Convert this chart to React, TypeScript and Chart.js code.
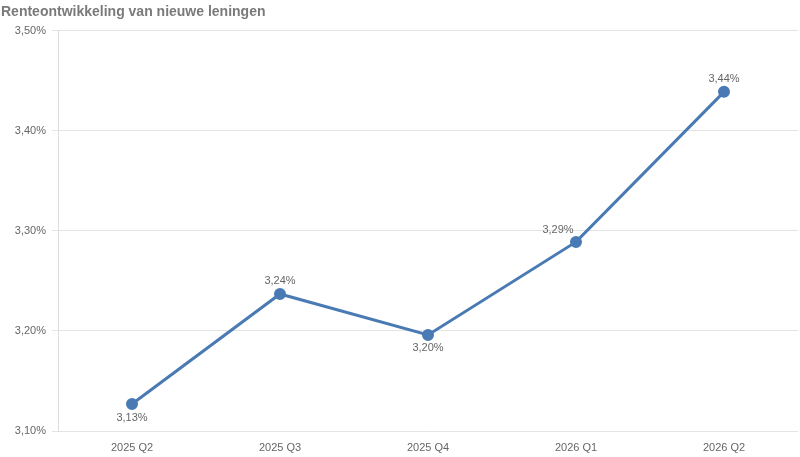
import React, { useEffect, useRef } from "react";
import { Chart, registerables } from "chart.js";

Chart.register(...registerables);

const categories = ["2025 Q2", "2025 Q3", "2025 Q4", "2026 Q1", "2026 Q2"];
const rates = [3.127, 3.237, 3.196, 3.289, 3.439];
const rateLabels = ["3,13%", "3,24%", "3,20%", "3,29%", "3,44%"];
const labelPlacement = ["below", "above", "below", "aboveLeft", "above"];
const yTicks = [3.1, 3.2, 3.3, 3.4, 3.5];

const FONT = "'Liberation Sans', Arial, sans-serif";

const pointLabels = {
  id: "pointLabels",
  afterDatasetsDraw(chart: any) {
    const ctx = chart.ctx;
    const meta = chart.getDatasetMeta(0);
    ctx.save();
    ctx.font = `11px ${FONT}`;
    ctx.fillStyle = "#666";
    ctx.textAlign = "center";
    meta.data.forEach((pt: any, i: number) => {
      const place = labelPlacement[i];
      let x = pt.x;
      let y = pt.y;
      if (place === "below") {
        ctx.textBaseline = "top";
        y += 8;
      } else if (place === "aboveLeft") {
        ctx.textBaseline = "bottom";
        x -= 18;
        y -= 6;
      } else {
        ctx.textBaseline = "bottom";
        y -= 7;
      }
      ctx.fillText(rateLabels[i], x, y);
    });
    ctx.restore();
  },
};

export default function App() {
  const ref = useRef<HTMLCanvasElement>(null);
  useEffect(() => {
    document.body.style.margin = "0";
    const chart = new Chart(ref.current as HTMLCanvasElement, {
      type: "line",
      data: {
        labels: categories,
        datasets: [
          {
            data: rates,
            borderColor: "#4a7ab4",
            backgroundColor: "#4a7ab4",
            borderWidth: 3,
            pointRadius: 4.5,
            pointHoverRadius: 4.5,
            tension: 0,
          },
        ],
      },
      options: {
        animation: false,
        responsive: false,
        layout: { autoPadding: false, padding: { left: 1, right: 2, top: 1, bottom: 0 } },
        plugins: {
          legend: { display: false },
          tooltip: { enabled: false },
          title: {
            display: true,
            text: "Renteontwikkeling van nieuwe leningen",
            align: "start",
            color: "#7a7a7a",
            font: { family: FONT, size: 14, weight: "bold" },
            padding: { top: 3, bottom: 10 },
          },
        },
        scales: {
          x: {
            offset: true,
            grid: { display: false },
            border: { display: false },
            ticks: {
              color: "#666",
              font: { family: FONT, size: 11 },
              padding: 2,
              maxRotation: 0,
            },
            afterFit(scale: any) {
              scale.height = 26;
            },
          },
          y: {
            min: yTicks[0],
            max: yTicks[yTicks.length - 1],
            afterBuildTicks(scale: any) {
              scale.ticks = yTicks.map((v) => ({ value: v }));
            },
            grid: { color: "#e4e4e4", lineWidth: 1, tickLength: 6 },
            border: { display: true, color: "#dcdcdc" },
            ticks: {
              color: "#666",
              font: { family: FONT, size: 11 },
              padding: 6,
              callback: (v: any) => Number(v).toFixed(2).replace(".", ",") + "%",
            },
            afterFit(scale: any) {
              scale.width = 57;
            },
          },
        },
      },
      plugins: [pointLabels],
    });
    return () => chart.destroy();
  }, []);
  return <canvas ref={ref} width={800} height={457} style={{ display: "block" }} />;
}
